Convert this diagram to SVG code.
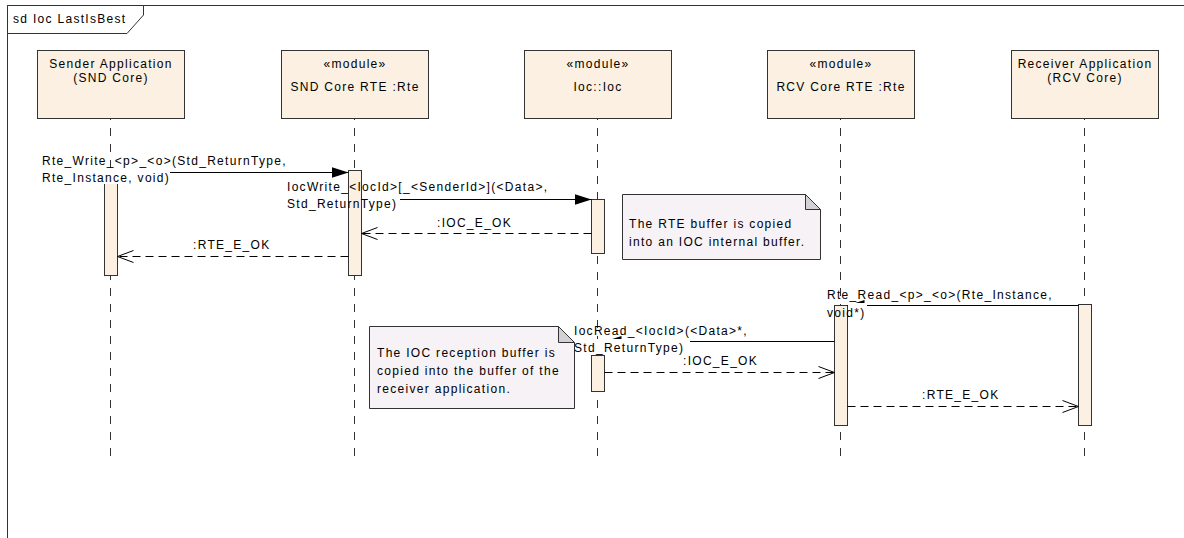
<svg xmlns="http://www.w3.org/2000/svg" width="1184" height="538" viewBox="0 0 1184 538">
<defs>
<style>
text{font-family:"Liberation Sans",Arial,sans-serif;font-size:12px;letter-spacing:1.3px;fill:#000}
.c{text-anchor:middle}
.head{fill:#FBF0E1;stroke:#333;stroke-width:1}
.act{fill:#FBF0E1;stroke:#333;stroke-width:1}
.life{stroke:#333;stroke-width:1;stroke-dasharray:8 8;stroke-dashoffset:7;fill:none}
.msg{stroke:#000;stroke-width:1;fill:none}
.ret{stroke:#000;stroke-width:1;fill:none;stroke-dasharray:8 5}
.note{fill:#F6F2F6;stroke:#333;stroke-width:1}
.fold{fill:#D3D0D6;stroke:#333;stroke-width:1}
.bg{fill:#fff}
</style>
<marker id="filled" markerUnits="userSpaceOnUse" markerWidth="18" markerHeight="12" refX="17" refY="6" orient="auto"><path d="M0,0.5 L17,6 L0,11.5 Z" fill="#000"/></marker>
<marker id="open" markerUnits="userSpaceOnUse" markerWidth="18" markerHeight="14" refX="17" refY="7" orient="auto"><path d="M1,1 L17,7 L1,13" fill="none" stroke="#000" stroke-width="1"/></marker>
</defs>
<rect x="0" y="0" width="1184" height="538" fill="#fff"/>
<g id="frame">
<rect x="7.5" y="5.5" width="1190" height="540" fill="none" stroke="#333" stroke-width="1"/>
<path d="M7.5,5.5 H143.5 V15 L127,33.5 H7.5 Z" fill="#fff" stroke="#333" stroke-width="1"/>
<text x="13" y="23">sd Ioc LastIsBest</text>
</g>
<g id="sender">
<line class="life" x1="110.5" y1="119" x2="110.5" y2="457"/>
<rect class="head" x="37.5" y="50.5" width="147" height="68"/>
<text class="c" x="111" y="68">Sender Application</text>
<text class="c" x="111" y="82">(SND Core)</text>
<rect class="act" x="104.5" y="172.5" width="13" height="103"/>
</g>
<g id="snd-rte">
<line class="life" x1="354.5" y1="119" x2="354.5" y2="457"/>
<rect class="head" x="281.5" y="50.5" width="147" height="68"/>
<text class="c" x="355" y="68">«module»</text>
<text class="c" x="355" y="91">SND Core RTE :Rte</text>
<rect class="act" x="348.5" y="170.5" width="13" height="105"/>
</g>
<g id="ioc">
<line class="life" x1="597.5" y1="119" x2="597.5" y2="457"/>
<rect class="head" x="524.5" y="50.5" width="147" height="68"/>
<text class="c" x="598" y="68">«module»</text>
<text class="c" x="598" y="91">Ioc::Ioc</text>
<rect class="act" x="591.5" y="199.5" width="13" height="54"/>
<rect class="act" x="591.5" y="355.5" width="13" height="36"/>
</g>
<g id="rcv-rte">
<line class="life" x1="840.5" y1="119" x2="840.5" y2="457"/>
<rect class="head" x="767.5" y="50.5" width="147" height="68"/>
<text class="c" x="841" y="68">«module»</text>
<text class="c" x="841" y="91">RCV Core RTE :Rte</text>
<rect class="act" x="834.5" y="305.5" width="13" height="120"/>
</g>
<g id="receiver">
<line class="life" x1="1084.5" y1="119" x2="1084.5" y2="457"/>
<rect class="head" x="1011.5" y="50.5" width="147" height="68"/>
<text class="c" x="1085" y="68">Receiver Application</text>
<text class="c" x="1085" y="82">(RCV Core)</text>
<rect class="act" x="1078.5" y="304.5" width="13" height="121"/>
</g>
<g id="note-rte-buffer">
<path class="note" d="M622.5,194.5 H805.5 L820.5,209.5 V259.5 H622.5 Z"/>
<path class="fold" d="M805.5,194.5 V209.5 H820.5 Z"/>
<text x="629" y="228">The RTE buffer is copied</text>
<text x="629" y="246">into an IOC internal buffer.</text>
</g>
<g id="note-ioc-reception">
<path class="note" d="M369.5,326.5 H558.5 L574.5,342.5 V408.5 H369.5 Z"/>
<path class="fold" d="M558.5,326.5 V342.5 H574.5 Z"/>
<text x="377" y="357">The IOC reception buffer is</text>
<text x="377" y="375">copied into the buffer of the</text>
<text x="377" y="393">receiver application.</text>
</g>
<g id="connectors">
<line class="msg" x1="117.5" y1="172.5" x2="348.5" y2="172.5" marker-end="url(#filled)"/>
<rect class="bg" x="40" y="172" width="130" height="12"/>
<text x="42" y="165">Rte_Write_&lt;p&gt;_&lt;o&gt;(Std_ReturnType,</text>
<text x="42" y="182">Rte_Instance, void)</text>

<line class="msg" x1="361.5" y1="199.5" x2="591.5" y2="199.5" marker-end="url(#filled)"/>
<rect class="bg" x="362" y="197" width="38" height="14"/>
<text x="287" y="191">IocWrite_&lt;IocId&gt;[_&lt;SenderId&gt;](&lt;Data&gt;,</text>
<text x="287" y="208">Std_ReturnType)</text>

<line class="ret" x1="591.5" y1="233.5" x2="361.5" y2="233.5" marker-end="url(#open)"/>
<text x="437" y="227">:IOC_E_OK</text>

<line class="ret" x1="348.5" y1="256.5" x2="117.5" y2="256.5" marker-end="url(#open)"/>
<text x="193" y="249">:RTE_E_OK</text>

<line class="msg" x1="1078.5" y1="305.5" x2="847.5" y2="305.5" marker-end="url(#filled)"/>
<rect class="bg" x="848" y="303" width="19" height="17"/>
<text x="827" y="299">Rte_Read_&lt;p&gt;_&lt;o&gt;(Rte_Instance,</text>
<text x="827" y="317">void*)</text>

<line class="msg" x1="834.5" y1="341.5" x2="604.5" y2="341.5" marker-end="url(#filled)"/>
<rect class="bg" x="575" y="339" width="115" height="16"/>
<text x="574" y="335">IocRead_&lt;IocId&gt;(&lt;Data&gt;*,</text>
<text x="574" y="352">Std_ReturnType)</text>

<line class="ret" x1="604.5" y1="372.5" x2="834.5" y2="372.5" marker-end="url(#open)"/>
<text x="683" y="365">:IOC_E_OK</text>

<line class="ret" x1="847.5" y1="406.5" x2="1078.5" y2="406.5" marker-end="url(#open)"/>
<text x="922" y="399">:RTE_E_OK</text>
</g>
</svg>
